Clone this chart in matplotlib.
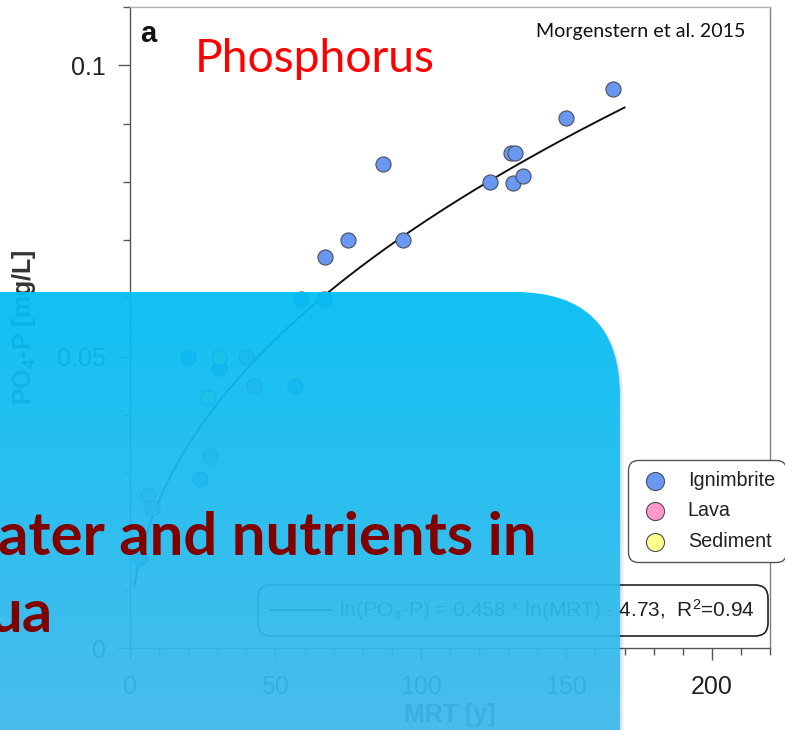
import numpy as np
import matplotlib
matplotlib.use('Agg')
import matplotlib.pyplot as plt
from matplotlib.patches import FancyBboxPatch
from matplotlib.ticker import MultipleLocator, FixedLocator
from matplotlib.lines import Line2D

# ---------------- data ----------------
ign_mrt = [166.0, 149.8, 131.0, 132.3, 123.7, 131.6, 135.0, 87.0, 74.8, 67.0,
           93.8, 58.8, 66.7, 19.8, 30.6, 56.7, 24.0, 3.4]
ign_po4 = [0.0959, 0.0909, 0.0849, 0.0849, 0.0800, 0.0798, 0.0810, 0.0830, 0.0700, 0.0671,
           0.0700, 0.0599, 0.0599, 0.0500, 0.0480, 0.0450, 0.0290, 0.0154]
lava_mrt = [39.8, 42.6, 27.5, 6.1, 7.5]
lava_po4 = [0.0500, 0.0450, 0.0330, 0.0262, 0.0240]
sed_mrt = [30.6, 26.7]
sed_po4 = [0.0500, 0.0430]

categories = ['Ignimbrite', 'Lava', 'Sediment']
fit_slope = 0.458
fit_intercept = -4.73
fit_r2 = 0.94
fit_range = [1.5, 170]

x_ticks = [0, 50, 100, 150, 200]
y_ticks = [0, 0.05, 0.1]
y_tick_labels = ['0', '0.05', '0.1']

# ---------------- style ----------------
plt.rcParams['font.family'] = ['Liberation Sans', 'DejaVu Sans']
plt.rcParams['mathtext.fontset'] = 'custom'
plt.rcParams['mathtext.rm'] = 'Liberation Sans'
plt.rcParams['mathtext.it'] = 'Liberation Sans:italic'
plt.rcParams['mathtext.bf'] = 'Liberation Sans:bold'

W, H = 785, 730
fig = plt.figure(figsize=(W / 100, H / 100), dpi=100)
fig.patch.set_facecolor('white')

ax = fig.add_axes([130 / W, 1 - 648 / H, 640 / W, 641 / H])
ax.set_xlim(0, 220)
ax.set_ylim(0, 0.11)

cols = {'Ignimbrite': '#6a98f0', 'Lava': '#ff99cc', 'Sediment': '#ffff8c'}
edge = '#4a4e60'
s = 118
h_ign = ax.scatter(ign_mrt, ign_po4, s=s, c=cols['Ignimbrite'], edgecolors=edge, linewidths=0.8, zorder=3)
h_lava = ax.scatter(lava_mrt, lava_po4, s=s, c=cols['Lava'], edgecolors=edge, linewidths=0.8, zorder=3)
h_sed = ax.scatter(sed_mrt, sed_po4, s=s, c=cols['Sediment'], edgecolors=edge, linewidths=0.8, zorder=3)

xf = np.linspace(fit_range[0], fit_range[1], 400)
yf = np.exp(fit_slope * np.log(xf) + fit_intercept)
ax.plot(xf, yf, color='#111111', lw=1.4, zorder=2)

# axes styling
for side, c in [('left', '#555555'), ('bottom', '#555555'), ('top', '#b0b0b0'), ('right', '#808080')]:
    ax.spines[side].set_color(c)
    ax.spines[side].set_linewidth(1.0)
ax.xaxis.set_major_locator(FixedLocator(x_ticks))
ax.xaxis.set_minor_locator(MultipleLocator(10))
ax.yaxis.set_major_locator(FixedLocator(y_ticks))
ax.set_yticklabels(y_tick_labels)
ax.yaxis.set_minor_locator(MultipleLocator(0.01))
ax.tick_params(which='major', direction='out', length=8.6, width=1.0, color='#555555',
               labelsize=18, labelcolor='#222222', pad=9)
ax.tick_params(which='minor', direction='out', length=5, width=1.0, color='#555555')
ax.tick_params(axis='x', which='major', pad=11)
ax.set_xlabel('MRT [y]', fontsize=18, fontweight='bold', color='#333333')
ax.set_ylabel(r'PO$_\mathbf{4}$-P [mg/L]', fontsize=18, fontweight='bold', color='#333333')
ax.xaxis.set_label_coords(0.5, -(703 - 648) / 641)
ax.yaxis.set_label_coords((38 - 130) / 640, 0.5)

# legends
leg1 = ax.legend([h_ign, h_lava, h_sed], categories, loc='upper left',
                 bbox_to_anchor=(628 / W, 1 - 460 / H), bbox_transform=fig.transFigure,
                 borderaxespad=0, fontsize=14.2, markerscale=1.2, borderpad=0.55,
                 handlelength=1.62, handletextpad=0.86, labelspacing=0.58,
                 frameon=True, fancybox=True, framealpha=1, edgecolor='#555555',
                 labelcolor='#222222')
leg1.get_frame().set_boxstyle('round,pad=0,rounding_size=0.5')
leg1.get_frame().set_linewidth(1.0)
ax.add_artist(leg1)

eq = (r'ln(PO$_4$-P) = %.3f * ln(MRT) - %.2f,  R$^2$=%.2f'
      % (fit_slope, -fit_intercept, fit_r2))
leg2 = ax.legend([Line2D([], [], color='#111111', lw=1.4)], [eq], loc='upper left',
                 bbox_to_anchor=(258 / W, 1 - 585 / H), bbox_transform=fig.transFigure,
                 borderaxespad=0, fontsize=15, borderpad=0.6, handlelength=3.0,
                 handletextpad=0.3, frameon=True, fancybox=True, framealpha=1,
                 edgecolor='#222222', labelcolor='#222222')
leg2.get_frame().set_boxstyle('round,pad=0,rounding_size=0.6')
leg2.get_frame().set_linewidth(1.2)

# ---------------- overlay (slide) ----------------
ov = fig.add_axes([0, 0, 1, 1], zorder=10)
ov.set_xlim(0, W)
ov.set_ylim(H, 0)
ov.axis('off')
ov.patch.set_alpha(0)

r = fig.canvas.get_renderer()


def fit_width(t, width_px):
    for _ in range(3):
        bb = t.get_window_extent(r)
        t.set_fontsize(t.get_fontsize() * width_px / bb.width)


# annotations of the chart image
ov.text(140, 42, 'a', fontsize=21, fontweight='bold', color='#111111', ha='left', va='baseline')
t_ph = ov.text(195, 72, 'Phosphorus', color='#ff0000', fontfamily='Lato', fontsize=30,
               ha='left', va='baseline')
fit_width(t_ph, 240)
t_mo = ov.text(536, 37, 'Morgenstern et al. 2015', color='#111111', fontfamily='Lato',
               fontsize=13, ha='left', va='baseline')
fit_width(t_mo, 209)

# shadow
for off, al in [(4, 0.04), (2.5, 0.05), (1.2, 0.06)]:
    sh = FancyBboxPatch((-300 + off, 292 + off), 920, 700,
                        boxstyle='round,pad=0,rounding_size=105',
                        facecolor='black', edgecolor='none', alpha=al, zorder=1)
    ov.add_patch(sh)

a = 0.93
top = np.array([20, 196, 246]) / 255
bot = np.array([76, 191, 239]) / 255
tt = np.linspace(0, 1, 256)[:, None]
obs = top * (1 - tt) + bot * tt
C = np.clip((obs - (1 - a)) / a, 0, 1)
img = np.concatenate([C, np.full((256, 1), a)], axis=1)[:, None, :]
clip = FancyBboxPatch((-300, 292), 920, 700, boxstyle='round,pad=0,rounding_size=105',
                      facecolor='none', edgecolor='none')
ov.add_patch(clip)
im = ov.imshow(img, extent=[-10, 630, 730, 292], aspect='auto', interpolation='bilinear', zorder=2)
im.set_clip_path(clip)
ov.set_xlim(0, W)
ov.set_ylim(H, 0)

t1 = ov.text(537, 555, 'ater and nutrients in', color='#800000', fontfamily='Lato',
             fontweight='bold', fontsize=40, ha='right', va='baseline', zorder=3)
fit_width(t1, 538)
t2 = ov.text(53, 632, 'ua', color='#800000', fontfamily='Lato', fontweight='bold',
             fontsize=t1.get_fontsize(), ha='right', va='baseline', zorder=3)

fig.savefig('out.png', dpi=100)
